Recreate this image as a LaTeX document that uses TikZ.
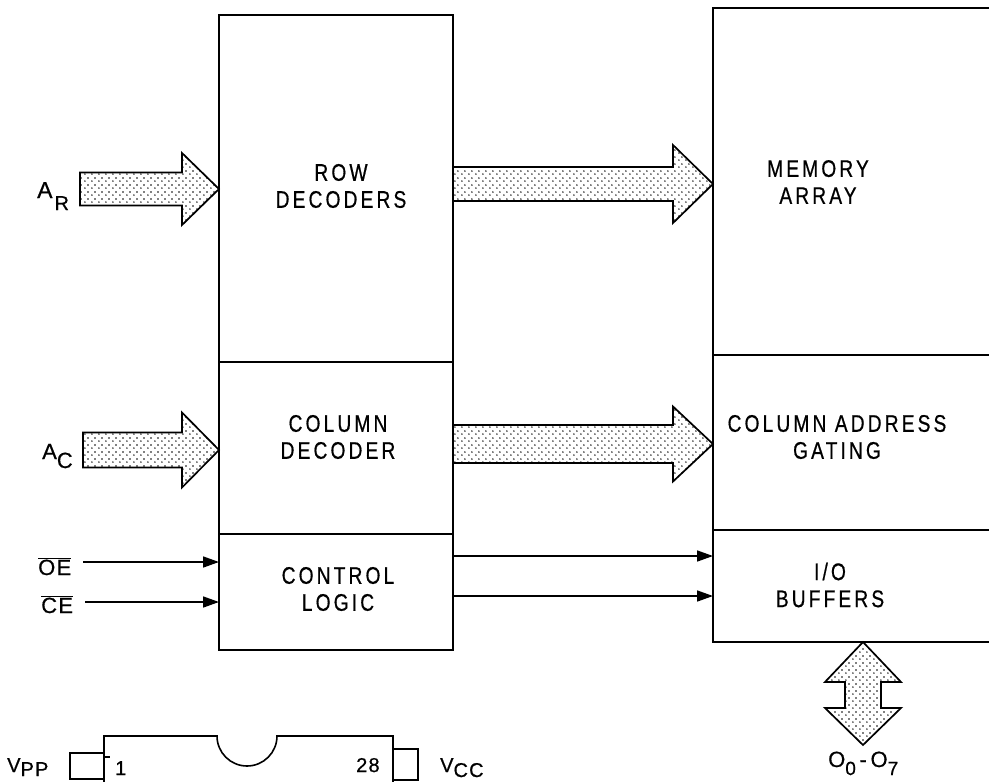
\documentclass[tikz,border=0pt]{standalone}
\usepackage{fontspec}
\setmainfont{Liberation Sans}[FakeStretch=0.8, LetterSpace=13, FakeBold=0.6]
\newfontfamily\plain{Liberation Sans}[LetterSpace=6, FakeBold=0.6]
\usetikzlibrary{patterns,arrows.meta,calc}
\pgfdeclarepatternformonly{sdots}{\pgfqpoint{-1pt}{-1pt}}{\pgfqpoint{5.5pt}{5.5pt}}{\pgfqpoint{6.5pt}{6.5pt}}{%
  \pgfpathcircle{\pgfqpoint{0pt}{0pt}}{0.85pt}%
  \pgfpathcircle{\pgfqpoint{3.25pt}{3.25pt}}{0.85pt}%
  \pgfusepath{fill}}
\newcommand\hfat[5]{\draw[fat] let \p1=(#1), \p2=(#2) in
  (\x1,\y2+#3pt) -- (\x2-#5pt,\y2+#3pt) -- (\x2-#5pt,\y2+#4pt) -- (\x2,\y2) --
  (\x2-#5pt,\y2-#4pt) -- (\x2-#5pt,\y2-#3pt) -- (\x1,\y2-#3pt) -- cycle;}
\begin{document}
\begin{tikzpicture}[x=1pt,y=-1pt,
  blk/.style={draw, line width=1.4pt, inner sep=0pt, outer sep=0pt, anchor=north west},
  lbl/.style={font=\fontsize{24}{27}\selectfont, align=center, inner sep=0pt},
  sml/.style={font=\plain\fontsize{22}{26}\selectfont, inner sep=0pt, anchor=base west},
  fat/.style={draw, line width=1.7pt, pattern=sdots, line join=miter},
  sig/.style={line width=1.7pt, -{Triangle[length=16pt,width=11pt]}},
  chip/.style={line width=1.6pt}]
\useasboundingbox (0,0) rectangle (989,782);
\clip (0,0) rectangle (989,782);
\fill[white] (0,0) rectangle (989,782);
% left block
\node[blk, minimum width=234pt, minimum height=347pt] (rd) at (219,15) {};
\node[blk, minimum width=234pt, minimum height=172pt] (cd) at (219,362) {};
\node[blk, minimum width=234pt, minimum height=116pt] (cl) at (219,534) {};
% right block
\node[blk, minimum width=300pt, minimum height=347pt] (ma) at (713,8) {};
\node[blk, minimum width=300pt, minimum height=175pt] (cg) at (713,355) {};
\node[blk, minimum width=300pt, minimum height=112pt] (io) at (713,530) {};
% texts
\node[lbl] (rdt) at (341,186) {ROW\\DECODERS};
\node[lbl] (cdt) at (338,437) {COLUMN\\DECODER};
\node[lbl] (clt) at (338,589) {CONTROL\\LOGIC};
\node[lbl] (mat) at (818,182) {MEMORY\\ARRAY};
\node[lbl] (cgt) at (837,437) {COLUMN ADDRESS\\GATING};
\node[lbl] (iot) at (830,585) {I/O\\BUFFERS};
% input labels
\node[sml, font=\plain\fontsize{23}{26}\selectfont] (ar) at (37,198) {A\hspace{2pt}\raisebox{-12pt}{\fontsize{20}{22}\selectfont R}};
\node[sml] (ac) at (42,459) {A\raisebox{-9pt}{C}};
\node[sml] (oe) at (38,575) {\(\overline{\mbox{OE}}\)};
\node[sml] (ce) at (41,613) {\(\overline{\mbox{CE}}\)};
% fat arrows
\coordinate (arY) at (80,189);
\hfat{arY}{rd.west |- arY}{16.5}{36}{37}
\coordinate (rmY) at (0,184);
\hfat{rd.east |- rmY}{ma.west |- rmY}{17}{39}{40}
\coordinate (acY) at (83,450);
\hfat{acY}{cd.west |- acY}{17.5}{37.5}{37}
\coordinate (cgY) at (0,444);
\hfat{cd.east |- cgY}{cg.west |- cgY}{19}{37.5}{40}
% control signals
\coordinate (oeS) at (83,562);
\coordinate (ceS) at (85,602);
\draw[sig] (oeS) -- (cl.west |- oeS);
\draw[sig] (ceS) -- (cl.west |- ceS);
\coordinate (c1) at (0,556);
\coordinate (c2) at (0,596);
\draw[sig] (cl.east |- c1) -- (io.west |- c1);
\draw[sig] (cl.east |- c2) -- (io.west |- c2);
% bidirectional data arrow
\coordinate (bd) at (863,642);
\draw[fat] (bd) -- ++(38,40) -- ++(-20,0) -- ++(0,26) -- ++(20,0) -- ++(-38,37)
  -- ++(-38,-37) -- ++(20,0) -- ++(0,-26) -- ++(-20,0) -- cycle;
\node[sml] (dq) at (828,767) {O\raisebox{-8pt}{\fontsize{19}{20}\selectfont 0}\,-\,O\raisebox{-8pt}{\fontsize{19}{20}\selectfont 7}};
% chip outline
\draw[chip] (104,782) -- (104,736) -- (217,736)
  arc[start angle=180, end angle=360, radius=30pt] -- (393,736) -- (393,782);
\draw[chip] (104,753) -- (70,753) -- (70,779) -- (104,779);
\draw[chip] (104,757) -- (110,757);
\draw[chip] (393,749) -- (418,749) -- (418,780) -- (393,780);
\node[sml, font=\plain\fontsize{20}{24}\selectfont] (vpp) at (7,772) {V\raisebox{-4pt}{PP}};
\node[sml, font=\plain\fontsize{20}{24}\selectfont] (p1) at (115,775) {1};
\node[sml, font=\plain\fontsize{20}{24}\selectfont] (p28) at (356,772) {28};
\node[sml, font=\plain\fontsize{20}{24}\selectfont] (vcc) at (440,772) {V\raisebox{-5pt}{CC}};
\end{tikzpicture}
\end{document}
